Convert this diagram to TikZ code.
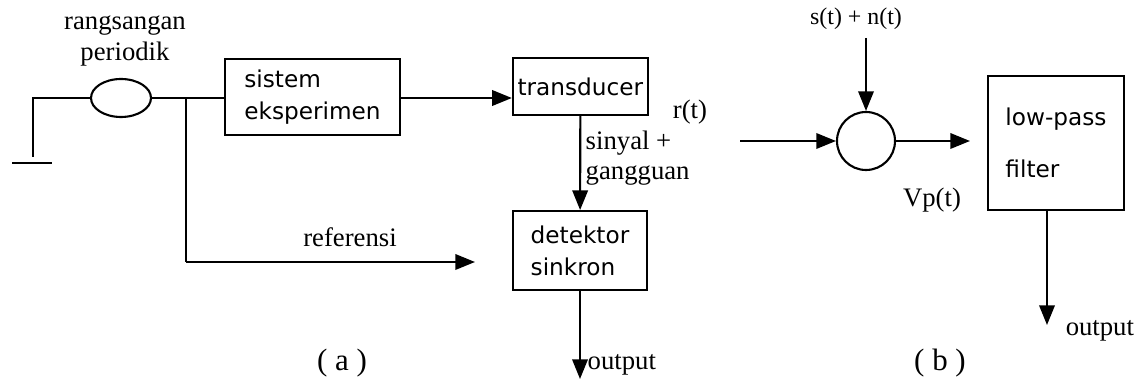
\documentclass[tikz,border=0pt]{standalone}
\usepackage{fontspec}
\setmainfont{Liberation Serif}
\newfontfamily\handfont{DejaVu Sans}
\usepackage{tikz}
\usetikzlibrary{arrows.meta,shapes.geometric,positioning,calc}
\tikzset{>={Triangle[length=14pt,width=11pt]}}
\tikzset{blok/.style={draw, line width=1.5pt, rectangle, align=left, font=\handfont\fontsize{16.5}{23}\selectfont},
         lbl/.style={font=\fontsize{19}{21.5}\selectfont, align=center},
         every path/.append style={line width=1.5pt}}

\begin{document}
\begin{tikzpicture}
      \useasboundingbox (0,0) rectangle (28.4,9.525);
      % (a) lock-in
      \node[draw, ellipse, line width=1.5pt, minimum width=1.5cm, minimum height=0.95cm] (osc) at (3.025,7.075) {};
      \node[lbl] (rang) at (3.125,8.5) {rangsangan\\periodik};
      \coordinate (g) at (0.825,5.6);
      \coordinate (gl) at (0.3,5.45);
      \coordinate (gr) at (1.3,5.45);
      \coordinate (j) at (4.65,7.075);
      \coordinate (jr) at (4.65,2.975);
      \node[blok, minimum width=4.375cm, minimum height=1.9cm] (sis) at (7.8125,7.1) {sistem\\eksperimen};
      \node[blok, minimum width=3.375cm, minimum height=1.425cm] (trans) at (14.51,7.36) {transducer};
      \node[blok, minimum width=3.35cm, minimum height=1.975cm] (det) at (14.5,3.26) {detektor\\sinkron};
      \coordinate (refend) at (11.875,2.975);
      \coordinate (outa) at (14.5,0.05);
      \node[lbl, anchor=north west, align=left] (sin) at (14.5,6.4) {sinyal +\\gangguan};
      \node[lbl] (rt) at (17.25,6.725) {r(t)};
      \node[lbl] (ref) at (8.75,3.6) {referensi};
      \node[lbl, anchor=west] (outlbl) at (14.55,0.4) {output};
      \node[font=\fontsize{22}{24}\selectfont] (cap) at (8.55,0.45) {( a )};

      \draw (gl) -- (gr);
      \draw (g) |- (osc.west);
      \draw (osc.east) -- (sis.west |- osc.east);
      \draw[->] (sis.east |- osc.east) -- (trans.west |- osc.east);
      \draw[->] (trans) -- (det);
      \draw[->] (det) -- (outa);
      \draw (j) -- (jr);
      \draw[->] (jr) -- (refend);

      % (b) filter
      \node[draw, circle, line width=1.5pt, minimum size=1.45cm] (sum) at (21.65,6.0) {};
      \node[font=\fontsize{17}{19}\selectfont] (snt) at (21.4,9.05) {s(t) + n(t)};
      \coordinate (sntend) at (21.65,8.575);
      \coordinate (inb) at (18.5,6.0);
      \coordinate (vpend) at (24.25,6.0);
      \node[blok, minimum width=3.4cm, minimum height=3.35cm, font=\handfont\fontsize{16.5}{37}\selectfont] (lpf) at (26.4,5.95) {low-pass\\filter};
      \node[lbl] (vp) at (23.3,4.525) {Vp(t)};
      \coordinate (outb) at (26.175,1.4);
      \node[lbl, anchor=west] (outlbl2) at (26.5,1.25) {output};
      \node[font=\fontsize{22}{24}\selectfont] (capb) at (23.5,0.45) {( b )};

      \draw[->] (inb) -- (sum);
      \draw[->] (sntend) -- (sum);
      \draw[->] (sum) -- (vpend);
      \draw[->] (lpf.south -| outb) -- (outb);
\end{tikzpicture}
\end{document}
